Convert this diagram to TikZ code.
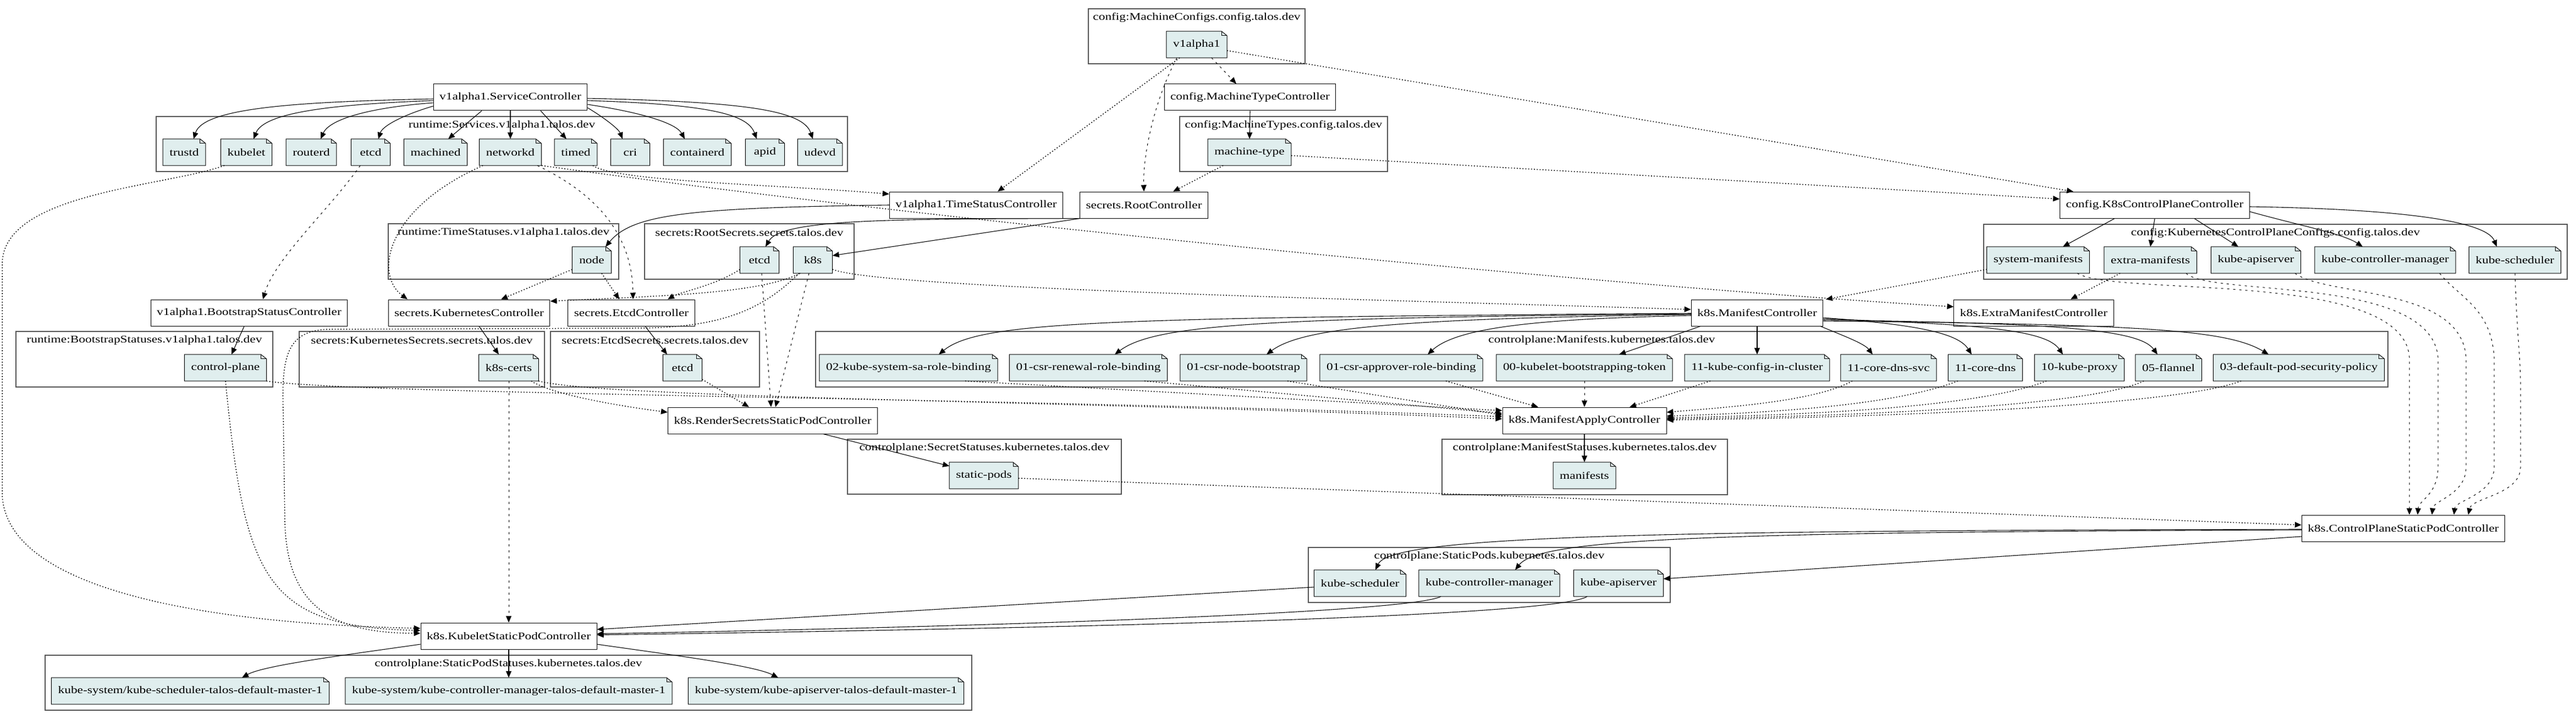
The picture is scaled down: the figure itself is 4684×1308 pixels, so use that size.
\documentclass[tikz,border=0pt]{standalone}
\usepackage{fontspec}
\setmainfont{Liberation Serif}[FakeStretch=1.25]
\usepackage{xcolor}
\usetikzlibrary{arrows.meta}
\definecolor{notefill}{HTML}{E0EEEE}
\definecolor{clusterline}{HTML}{555555}
\tikzset{
  ctrl/.style={draw, line width=1pt, fill=white, minimum height=48pt, inner xsep=11pt},
  resnote/.style={fill=notefill, minimum height=48pt, minimum width=71pt, inner xsep=12pt},
  clus/.style={draw=clusterline, line width=2pt},
  prodedge/.style={-{Triangle[length=12pt,width=10pt]}, line width=1.1pt},
  weakedge/.style={-{Triangle[length=12pt,width=10pt]}, line width=1.5pt, dash pattern=on 1.8pt off 3.4pt},
  strongedge/.style={-{Triangle[length=12pt,width=10pt]}, line width=1pt, dash pattern=on 4pt off 7pt},
}
% cluster: name, x1, y1, x2, y2, label
\newcommand{\clusterbox}[6]{%
  \draw[clus] (#2,#3) rectangle (#4,#5);
  \node (#1) at ({(#2+#4)/2},{#3+16}) {#6};}
% folded corner of a resource note
\newcommand{\notefold}[1]{%
  \fill[white] ([xshift=-10pt]#1.north east) -- (#1.north east) -- ([yshift=-8pt]#1.north east) -- cycle;
  \draw[line width=1pt] (#1.south west) -- (#1.north west) -- ([xshift=-10pt]#1.north east)
    -- ([yshift=-8pt]#1.north east) -- (#1.south east) -- cycle;
  \draw[line width=0.7pt] ([xshift=-10pt]#1.north east) -- ([xshift=-10pt,yshift=-8pt]#1.north east)
    -- ([yshift=-8pt]#1.north east);}

\begin{document}
\begin{tikzpicture}[x=1pt,y=-1pt,font=\fontsize{18.7pt}{22pt}\selectfont]
\useasboundingbox (0,0) rectangle (4684,1308);

% clusters
\clusterbox{lMachineConfigs}{1979}{16}{2373}{116}{config:MachineConfigs.config.talos.dev}
\clusterbox{lMachineTypes}{2145}{212}{2523}{312}{config:MachineTypes.config.talos.dev}
\clusterbox{lServices}{284}{212}{1541}{312}{runtime:Services.v1alpha1.talos.dev}
\clusterbox{lTimeStatuses}{706}{407}{1125}{508}{runtime:TimeStatuses.v1alpha1.talos.dev}
\clusterbox{lRootSecrets}{1172}{407}{1553}{508}{secrets:RootSecrets.secrets.talos.dev}
\clusterbox{lCPConfigs}{3607}{408}{4668}{508}{config:KubernetesControlPlaneConfigs.config.talos.dev}
\clusterbox{lBootstrap}{29}{603}{496}{704}{runtime:BootstrapStatuses.v1alpha1.talos.dev}
\clusterbox{lK8sSecrets}{544}{603}{990}{704}{secrets:KubernetesSecrets.secrets.talos.dev}
\clusterbox{lEtcdSecrets}{1001}{603}{1381}{704}{secrets:EtcdSecrets.secrets.talos.dev}
\clusterbox{lManifests}{1483}{603}{4342}{704}{controlplane:Manifests.kubernetes.talos.dev}
\clusterbox{lSecretStatuses}{1541}{799}{2039}{899}{controlplane:SecretStatuses.kubernetes.talos.dev}
\clusterbox{lManifestStatuses}{2622}{799}{3141}{900}{controlplane:ManifestStatuses.kubernetes.talos.dev}
\clusterbox{lStaticPods}{2379}{996}{3037}{1096}{controlplane:StaticPods.kubernetes.talos.dev}
\clusterbox{lPodStatuses}{82}{1192}{1767}{1292}{controlplane:StaticPodStatuses.kubernetes.talos.dev}

% controllers
\node[ctrl] (svcCtl) at (928,177) {v1alpha1.ServiceController};
\node[ctrl] (mtCtl) at (2273,177) {config.MachineTypeController};
\node[ctrl] (timeCtl) at (1775,373) {v1alpha1.TimeStatusController};
\node[ctrl] (rootCtl) at (2080,373) {secrets.RootController};
\node[ctrl] (cpCtl) at (3918,373) {config.K8sControlPlaneController};
\node[ctrl] (bootCtl) at (453,569) {v1alpha1.BootstrapStatusController};
\node[ctrl] (kubeCtl) at (853,569) {secrets.KubernetesController};
\node[ctrl] (etcdCtl) at (1148,569) {secrets.EtcdController};
\node[ctrl] (manCtl) at (3195,569) {k8s.ManifestController};
\node[ctrl] (extraCtl) at (3698,569) {k8s.ExtraManifestController};
\node[ctrl] (renderCtl) at (1405,765) {k8s.RenderSecretsStaticPodController};
\node[ctrl] (applyCtl) at (2881,765) {k8s.ManifestApplyController};
\node[ctrl] (cpspCtl) at (4370,961) {k8s.ControlPlaneStaticPodController};
\node[ctrl] (kspCtl) at (925,1157) {k8s.KubeletStaticPodController};

% resources
\node[resnote] (v1alpha1) at (2176,81) {v1alpha1};
\node[resnote] (mtype) at (2272,277) {machine-type};
\foreach \n/\x/\t in {trustd/335/trustd, kubelet/448/kubelet, routerd/566/routerd, svcEtcd/674/etcd,
    machined/792/machined, networkd/928/networkd, timed/1047/timed, cri/1146/cri,
    containerd/1268/containerd, apid/1391/apid, udevd/1491/udevd}
  \node[resnote] (\n) at (\x,277) {\t};
\node[resnote] (tsNode) at (1076,473) {node};
\node[resnote] (rsEtcd) at (1381,473) {etcd};
\node[resnote] (rsK8s) at (1478,473) {k8s};
\foreach \n/\x/\t in {sm/3706/system-manifests, em/3910/extra-manifests, cfgApi/4102/kube-apiserver,
    cfgKcm/4337/kube-controller-manager, cfgKs/4573/kube-scheduler}
  \node[resnote] (\n) at (\x,473) {\t};
\node[resnote] (cplane) at (410,669) {control-plane};
\node[resnote] (certs) at (925,669) {k8s-certs};
\node[resnote] (esEtcd) at (1241,669) {etcd};
\foreach \n/\x/\t in {ksa/1652/02-kube-system-sa-role-binding, renewal/1979/01-csr-renewal-role-binding,
    nodeboot/2261/01-csr-node-bootstrap, approver/2548/01-csr-approver-role-binding,
    kbt/2881/00-kubelet-bootstrapping-token, kcic/3195/11-kube-config-in-cluster,
    dnssvc/3434/11-core-dns-svc, dns/3610/11-core-dns, proxy/3781/10-kube-proxy,
    flannel/3943/05-flannel, psp/4180/03-default-pod-security-policy}
  \node[resnote] (\n) at (\x,669) {\t};
\node[resnote] (spods) at (1789,865) {static-pods};
\node[resnote] (stManifests) at (2881,865) {manifests};
\node[resnote] (podKs) at (2473,1061) {kube-scheduler};
\node[resnote] (podKcm) at (2708,1061) {kube-controller-manager};
\node[resnote] (podKa) at (2943,1061) {kube-apiserver};
\node[resnote] (stKs) at (346,1257) {kube-system/kube-scheduler-talos-default-master-1};
\node[resnote] (stKcm) at (925,1257) {kube-system/kube-controller-manager-talos-default-master-1};
\node[resnote] (stKa) at (1502,1257) {kube-system/kube-apiserver-talos-default-master-1};

\foreach \n in {v1alpha1,mtype,trustd,kubelet,routerd,svcEtcd,machined,networkd,timed,cri,
    containerd,apid,udevd,tsNode,rsEtcd,rsK8s,sm,em,cfgApi,cfgKcm,cfgKs,cplane,certs,esEtcd,
    ksa,renewal,nodeboot,approver,kbt,kcic,dnssvc,dns,proxy,flannel,psp,spods,stManifests,
    podKs,podKcm,podKa,stKs,stKcm,stKa}
  \notefold{\n};

% outputs
\draw[prodedge] ([yshift=-3pt]svcCtl.west) .. controls (550,185) and (370,195) .. ([xshift=17pt]trustd.north);
\draw[prodedge] ([yshift=-6pt]svcCtl.west) .. controls (600,190) and (480,205) .. ([xshift=13pt]kubelet.north);
\draw[prodedge] ([yshift=-10pt]svcCtl.west) .. controls (680,195) and (600,215) .. ([xshift=17pt]routerd.north);
\draw[prodedge] ([yshift=-16pt]svcCtl.west) .. controls (730,210) and (695,230) .. ([xshift=14pt]svcEtcd.north);
\draw[prodedge] ([xshift=-52pt]svcCtl.south) -- ([xshift=23pt]machined.north);
\draw[prodedge] (svcCtl.south) -- (networkd.north);
\draw[prodedge] ([xshift=55pt]svcCtl.south) -- ([xshift=-17pt]timed.north);
\draw[prodedge] ([yshift=-19pt]svcCtl.east) .. controls (1100,215) and (1125,235) .. ([xshift=-14pt]cri.north);
\draw[prodedge] ([yshift=-13pt]svcCtl.east) .. controls (1170,205) and (1230,225) .. ([xshift=-23pt]containerd.north);
\draw[prodedge] ([yshift=-6pt]svcCtl.east) .. controls (1300,190) and (1360,210) .. ([xshift=-15pt]apid.north);
\draw[prodedge] ([yshift=-2pt]svcCtl.east) .. controls (1350,185) and (1460,200) .. ([xshift=-13pt]udevd.north);
\draw[prodedge] (mtCtl.south) -- (mtype.north);
\draw[prodedge] (timeCtl.west) .. controls (1250,378) and (1150,390) .. ([xshift=25pt]tsNode.north);
\draw[prodedge] (rootCtl.south west) .. controls (1600,398) and (1420,400) .. ([xshift=11pt]rsEtcd.north);
\draw[prodedge] (rootCtl.south west) -- ([yshift=8pt]rsK8s.east);
\draw[prodedge] ([xshift=-73pt]cpCtl.south) -- ([xshift=45pt]sm.north);
\draw[prodedge] (cpCtl.south) -- (em.north);
\draw[prodedge] ([xshift=72pt]cpCtl.south) -- ([xshift=-32pt]cfgApi.north);
\draw[prodedge] ([yshift=-12pt]cpCtl.east) .. controls (4180,410) and (4260,425) .. ([xshift=-41pt]cfgKcm.north);
\draw[prodedge] ([yshift=-3pt]cpCtl.east) .. controls (4350,380) and (4520,400) .. ([xshift=-33pt]cfgKs.north);
\draw[prodedge] ([xshift=-9pt]bootCtl.south) -- ([xshift=11pt]cplane.north);
\draw[prodedge] ([xshift=18pt]kubeCtl.south) -- ([xshift=-18pt]certs.north);
\draw[prodedge] ([xshift=25pt]etcdCtl.south) -- ([xshift=-28pt]esEtcd.north);
\draw[prodedge] ([yshift=-1pt]manCtl.west) .. controls (2000,578) and (1780,585) .. ([xshift=55pt]ksa.north);
\draw[prodedge] ([yshift=-2pt]manCtl.west) .. controls (2300,578) and (2100,590) .. ([xshift=48pt]renewal.north);
\draw[prodedge] ([yshift=-3pt]manCtl.west) .. controls (2550,580) and (2370,595) .. ([xshift=42pt]nodeboot.north);
\draw[prodedge] ([yshift=-5pt]manCtl.west) .. controls (2800,580) and (2650,595) .. ([xshift=48pt]approver.north);
\draw[prodedge] ([xshift=-103pt]manCtl.south) -- ([xshift=63pt]kbt.north);
\draw[prodedge] (manCtl.south) -- (kcic.north);
\draw[prodedge] ([xshift=115pt]manCtl.south) .. controls (3350,610) and (3390,625) .. ([xshift=-29pt]dnssvc.north);
\draw[prodedge] ([yshift=-9pt]manCtl.east) .. controls (3480,590) and (3560,605) .. ([xshift=-25pt]dns.north);
\draw[prodedge] ([yshift=-11pt]manCtl.east) .. controls (3600,590) and (3720,600) .. ([xshift=-30pt]proxy.north);
\draw[prodedge] ([yshift=-13pt]manCtl.east) .. controls (3750,588) and (3890,600) .. ([xshift=-20pt]flannel.north);
\draw[prodedge] ([yshift=-15pt]manCtl.east) .. controls (3900,590) and (4050,600) .. ([xshift=-55pt]psp.north);
\draw[prodedge] ([xshift=92pt]renderCtl.south) -- ([yshift=-7pt]spods.north west);
\draw[prodedge] (applyCtl.south) -- (stManifests.north);
\draw[prodedge] ([yshift=-2pt]cpspCtl.west) .. controls (3000,965) and (2530,975) .. ([xshift=28pt]podKs.north);
\draw[prodedge] ([yshift=-3pt]cpspCtl.west) .. controls (3100,968) and (2800,980) .. ([xshift=47pt]podKcm.north);
\draw[prodedge] ([yshift=-15pt]cpspCtl.west) -- ([yshift=8pt]podKa.east);
\draw[prodedge] ([yshift=-7pt]podKs.west) -- ([yshift=12pt]kspCtl.east);
\draw[prodedge] ([xshift=-88pt]podKcm.south) .. controls (2560,1115) and (1800,1140) .. ([yshift=4pt]kspCtl.east);
\draw[prodedge] ([xshift=-57pt]podKa.south) .. controls (2820,1125) and (1800,1145) .. ([yshift=2pt]kspCtl.east);
\draw[prodedge] ([yshift=-15pt]kspCtl.west) .. controls (640,1190) and (480,1210) .. ([xshift=94pt]stKs.north);
\draw[prodedge] (kspCtl.south) -- (stKcm.north);
\draw[prodedge] ([yshift=-15pt]kspCtl.east) .. controls (1210,1190) and (1370,1210) .. ([xshift=-87pt]stKa.north);

% inputs
\draw[strongedge] ([xshift=27pt]v1alpha1.south) -- ([xshift=-25pt]mtCtl.north);
\draw[strongedge] ([xshift=-36pt]v1alpha1.south) .. controls (2100,180) and (2078,280) .. (rootCtl.north);
\draw[weakedge] ([xshift=-31pt]v1alpha1.south) -- ([xshift=39pt]timeCtl.north);
\draw[weakedge] ([yshift=-11pt]v1alpha1.east) -- ([xshift=-148pt]cpCtl.north);
\draw[weakedge] ([xshift=-48pt]mtype.south) -- ([xshift=53pt]rootCtl.north);
\draw[weakedge] ([yshift=-6pt]mtype.east) -- ([yshift=11pt]cpCtl.west);
\draw[weakedge] ([xshift=31pt]timed.south) .. controls (1120,330) and (1400,335) .. ([yshift=20pt]timeCtl.west);
\draw[weakedge] ([xshift=-50pt]networkd.south) .. controls (700,380) and (680,500) .. ([xshift=-112pt]kubeCtl.north);
\draw[strongedge] ([xshift=49pt]networkd.south) .. controls (1100,360) and (1150,440) .. ([xshift=3pt]etcdCtl.north);
\draw[weakedge] ([xshift=57pt]networkd.south) .. controls (1800,415) and (3000,525) .. ([yshift=11pt]extraCtl.west);
\draw[strongedge] ([xshift=-19pt]svcEtcd.south) .. controls (600,380) and (500,470) .. ([xshift=25pt]bootCtl.north);
\draw[weakedge] ([xshift=-40pt]kubelet.south) .. controls (300,340) and (5,350) .. (4,480) -- (4,900)
  .. controls (12,1080) and (400,1135) .. ([yshift=14pt]kspCtl.west);
\draw[weakedge] (cplane.south) .. controls (445,1050) and (480,1140) .. ([yshift=10pt]kspCtl.west);
\draw[weakedge] ([xshift=-25pt]rsK8s.south) .. controls (1380,570) and (1300,597) .. (1150,597) -- (600,599)
  .. controls (520,600) and (512,650) .. (515,750) -- (518,950)
  .. controls (522,1100) and (600,1152) .. ([yshift=5pt]kspCtl.west);
\draw[strongedge] (certs.south) -- (kspCtl.north);
\draw[weakedge] ([yshift=7pt]tsNode.south west) -- ([xshift=58pt]kubeCtl.north);
\draw[weakedge] ([xshift=18pt]tsNode.south) -- ([xshift=-22pt]etcdCtl.north);
\draw[weakedge] ([yshift=7pt]rsEtcd.south west) .. controls (1300,520) and (1240,530) .. ([xshift=66pt]etcdCtl.north);
\draw[weakedge] ([xshift=-23pt]rsK8s.south) .. controls (1380,535) and (1200,538) .. ([yshift=21pt]kubeCtl.east);
\draw[strongedge] ([xshift=4pt]rsEtcd.south) -- ([xshift=-3pt]renderCtl.north);
\draw[strongedge] ([xshift=-7pt]rsK8s.south) -- ([xshift=5pt]renderCtl.north);
\draw[weakedge] ([yshift=3pt]esEtcd.south east) -- ([xshift=-43pt]renderCtl.north);
\draw[weakedge] ([xshift=41pt]certs.south) .. controls (1000,715) and (1100,735) .. ([yshift=15pt]renderCtl.west);
\draw[weakedge] ([yshift=-17pt]rsK8s.east) .. controls (1600,525) and (2500,545) .. ([yshift=6pt]manCtl.west);
\draw[weakedge] ([yshift=-17pt]sm.west) -- ([xshift=125pt]manCtl.north);
\draw[weakedge] ([xshift=-55pt]em.south) -- ([xshift=67pt]extraCtl.north);
\draw[strongedge] ([xshift=71pt]sm.south) .. controls (3850,540) and (4370,490) .. (4381,650) -- ([xshift=11pt]cpspCtl.north);
\draw[strongedge] ([xshift=65pt]em.south) .. controls (4020,540) and (4420,500) .. (4433,650) -- (4433,850)
  .. controls (4433,900) and (4398,910) .. ([xshift=26pt]cpspCtl.north);
\draw[strongedge] ([xshift=71pt]cfgApi.south) .. controls (4230,540) and (4475,520) .. (4484,650) -- (4484,850)
  .. controls (4484,900) and (4425,910) .. ([xshift=52pt]cpspCtl.north);
\draw[strongedge] ([xshift=99pt]cfgKcm.south) .. controls (4470,540) and (4530,560) .. (4535,650) -- (4535,850)
  .. controls (4535,900) and (4465,910) .. ([xshift=92pt]cpspCtl.north);
\draw[strongedge] (cfgKs.south) .. controls (4576,600) and (4583,650) .. (4583,700) -- (4583,850)
  .. controls (4583,900) and (4495,905) .. ([xshift=118pt]cpspCtl.north);
\draw[weakedge] ([yshift=-5pt]spods.east) -- ([yshift=6pt]cpspCtl.west);
\draw[weakedge] ([xshift=103pt]ksa.south) -- ([yshift=18pt]applyCtl.west);
\draw[weakedge] ([xshift=102pt]renewal.south) -- ([yshift=13pt]applyCtl.west);
\draw[weakedge] ([xshift=80pt]nodeboot.south) -- ([yshift=10pt]applyCtl.west);
\draw[weakedge] ([xshift=81pt]approver.south) -- ([xshift=-84pt]applyCtl.north);
\draw[strongedge] (kbt.south) -- (applyCtl.north);
\draw[weakedge] ([xshift=-85pt]kcic.south) -- ([xshift=82pt]applyCtl.north);
\draw[weakedge] ([xshift=-66pt]dnssvc.south) .. controls (3300,730) and (3150,740) .. ([yshift=15pt]applyCtl.east);
\draw[weakedge] ([xshift=-50pt]dns.south) .. controls (3450,735) and (3250,750) .. ([yshift=8pt]applyCtl.east);
\draw[weakedge] ([xshift=-60pt]proxy.south) .. controls (3600,740) and (3300,755) .. ([yshift=5pt]applyCtl.east);
\draw[weakedge] ([xshift=-45pt]flannel.south) .. controls (3800,740) and (3350,758) .. ([yshift=3pt]applyCtl.east);
\draw[weakedge] ([xshift=-105pt]psp.south) .. controls (3950,740) and (3400,760) .. ([yshift=1pt]applyCtl.east);
\draw[weakedge] (cplane.south east) .. controls (650,718) and (1800,722) .. ([yshift=7pt]applyCtl.west);
\draw[weakedge] (certs.south east) .. controls (1100,725) and (2000,730) .. ([yshift=3pt]applyCtl.west);
\end{tikzpicture}
\end{document}
